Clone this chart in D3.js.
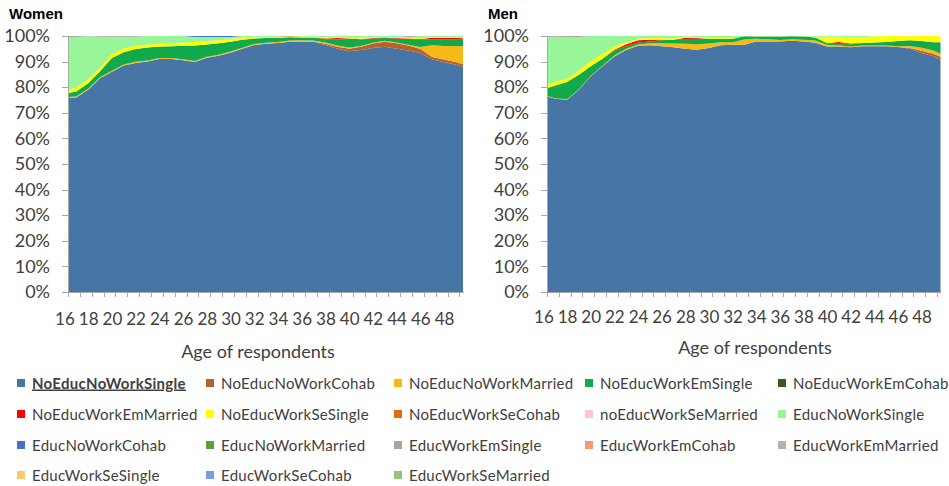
<!DOCTYPE html>
<html>
<head>
<meta charset="utf-8">
<script src="https://cdn.jsdelivr.net/npm/d3@7"></script>
<style>
    body { margin: 0; background: #fff; }
    svg { display: block; }
    .tick-label { font-family: Lato, "Open Sans", sans-serif; fill: #404040; }
    .axis path, .axis line { stroke: #a6a6a6; shape-rendering: crispEdges; }
    .panel-title { font-family: "Liberation Sans", Arial, sans-serif; font-weight: bold; font-size: 15px; fill: #000; }
    .axis-title { font-family: Lato, "Open Sans", sans-serif; font-size: 18px; fill: #404040; }
    .legend-text { font-family: Lato, "Open Sans", sans-serif; font-size: 15px; fill: #404040; letter-spacing: 0.3px; }
</style>
</head>
<body>
<div id="chart"></div>
<script>
// 100% stacked areas of activity/partnership states by age, women and men

let width = 949;
let height = 486;

// Ages of the data points (x categories)
let ages = [16.3, 17, 18, 19, 20, 21, 22, 23, 24, 25, 26, 27, 28, 29, 30, 31, 32, 33,
    34, 35, 36, 37, 38, 39, 40, 41, 42, 43, 44, 45, 46, 47, 48, 49, 49.6];

// Tick labels on the age axis
let ageLabels = [16, 18, 20, 22, 24, 26, 28, 30, 32, 34, 36, 38, 40, 42, 44, 46, 48];

// Series names in stacking order (bottom to top)
let seriesNames = ["NoEducNoWorkSingle", "NoEducNoWorkCohab", "NoEducNoWorkMarried",
    "NoEducWorkEmSingle", "NoEducWorkEmCohab", "NoEducWorkEmMarried",
    "NoEducWorkSeSingle", "NoEducWorkSeCohab", "noEducWorkSeMarried",
    "EducNoWorkSingle", "EducNoWorkCohab", "EducNoWorkMarried",
    "EducWorkEmSingle", "EducWorkEmCohab", "EducWorkEmMarried",
    "EducWorkSeSingle", "EducWorkSeCohab", "EducWorkSeMarried"];

let seriesColors = ["#4675a6", "#b8612a", "#f7b918",
    "#12a84c", "#385723", "#ff0000",
    "#ffff00", "#e46c0a", "#ffc7ce",
    "#98f598", "#4472c4", "#5ea03a",
    "#a5a5a5", "#f09a6e", "#b2b2b2",
    "#fbc86a", "#7c9cdb", "#93c47d"];

// Women (percent of respondents)
let womenNoEducNoWorkSingle = [75.8, 76, 79, 83.5, 86, 88.5, 89.5, 90, 91, 91, 90.5, 89.8, 91.5, 92.3, 93.5, 95, 96.5, 97,
    97.3, 97.8, 97.9, 97.8, 96.5, 95, 94, 94.5, 95.3, 95.8, 95, 94.3, 93.4, 90.8, 89.8, 88.8, 88];
let womenNoEducNoWorkCohab = [0, 0, 0, 0, 0, 0, 0, 0, 0, 0, 0, 0, 0, 0, 0, 0, 0, 0,
    0, 0, 0, 0, 0.5, 0.8, 1, 1.3, 1.8, 2, 2.2, 2, 1.5, 1, 1, 1, 1];
let womenNoEducNoWorkMarried = [0.4, 0.4, 0.4, 0.4, 0.4, 0.4, 0.4, 0.4, 0.4, 0.4, 0.4, 0.4, 0.4, 0.4, 0.4, 0.4, 0.4, 0.4,
    0.4, 0.4, 0.4, 0.4, 0.5, 0.5, 0.5, 0.3, 0.3, 0.3, 0.3, 0.3, 0.8, 4.6, 5.3, 6.3, 7];
let womenNoEducWorkEmSingle = [1.5, 1.9, 2.1, 2.3, 5, 4.8, 5, 5.1, 4.5, 4.6, 5.3, 6.1, 4.8, 4.5, 3.9, 3.1, 2.1, 1.8,
    1.5, 1.0, 1.1, 1.2, 1.2, 2.4, 3, 2.4, 1.6, 1.1, 1.5, 2.2, 2.9, 2.2, 2.5, 2.5, 2.4];
let womenNoEducWorkEmCohab = [0, 0, 0, 0, 0, 0, 0, 0, 0, 0, 0, 0, 0, 0, 0, 0, 0, 0,
    0, 0, 0, 0, 0, 0, 0, 0, 0, 0, 0, 0, 0, 0.2, 0.2, 0.2, 0.2];
let womenNoEducWorkEmMarried = [0, 0, 0, 0, 0, 0, 0, 0, 0, 0, 0, 0, 0, 0, 0, 0, 0, 0,
    0, 0.3, 0, 0, 0.3, 0.5, 0.5, 0.2, 0.2, 0.2, 0.2, 0.2, 0.2, 0.5, 0.5, 0.5, 0.5];
let womenNoEducWorkSeSingle = [1.3, 1.5, 1.6, 1.5, 1.5, 1.4, 1.3, 1.2, 1.1, 1.2, 1.3, 1.4, 1.3, 1.1, 1.0, 0.9, 0.7, 0.5,
    0.4, 0.3, 0.4, 0.4, 0.4, 0.3, 0.3, 0.3, 0.3, 0.3, 0.3, 0.3, 0.3, 0.3, 0.3, 0.3, 0.3];
let womenNoEducWorkSeCohab = [0, 0, 0, 0, 0, 0, 0, 0, 0, 0, 0, 0, 0, 0, 0, 0, 0, 0,
    0.2, 0.2, 0, 0, 0, 0, 0, 0, 0, 0, 0, 0, 0, 0, 0, 0, 0];
let womenNoEducWorkSeMarried = [0, 0, 0, 0, 0, 0, 0, 0, 0, 0, 0, 0, 0, 0, 0, 0, 0, 0,
    0, 0, 0, 0, 0, 0, 0, 0.3, 0, 0, 0, 0, 0, 0, 0, 0, 0];
let womenEducNoWorkSingle = [20.6, 19.8, 16.9, 12, 6.8, 4.6, 3.5, 3.3, 3, 2.8, 2.5, 1.9, 1.6, 1.3, 0.8, 0.6, 0.3, 0.3,
    0.2, 0, 0.2, 0.2, 0.6, 0.5, 0.7, 0.7, 0.5, 0.3, 0.5, 0.3, 0.9, 0.4, 0.4, 0.4, 0.6];
let womenEducNoWorkCohab = [0, 0, 0, 0, 0, 0, 0, 0, 0, 0, 0, 0.4, 0.4, 0.4, 0.4, 0, 0, 0,
    0, 0, 0, 0, 0, 0, 0, 0, 0, 0, 0, 0, 0, 0, 0, 0, 0];
let womenEducWorkEmSingle = [0.4, 0.4, 0, 0.3, 0.3, 0.3, 0.3, 0, 0, 0, 0, 0, 0, 0, 0, 0, 0, 0,
    0, 0, 0, 0, 0, 0, 0, 0, 0, 0, 0, 0.4, 0, 0, 0, 0, 0];

// Men (percent of respondents)
let menNoEducNoWorkSingle = [76.4, 75.5, 75.1, 79, 84.3, 88.2, 92, 94.5, 96.2, 96.4, 96, 95.6, 95, 94.6, 95.3, 96.4, 96.6, 96.6,
    97.9, 97.9, 97.9, 98.1, 97.9, 97.4, 96, 96, 95.6, 96, 96, 96, 95.7, 95, 93.4, 92.1, 90.7];
let menNoEducNoWorkCohab = [0, 0, 0, 0, 0, 0, 0, 0, 0, 0, 0, 0, 0, 0, 0, 0, 0, 0,
    0, 0, 0, 0, 0, 0, 0, 0, 0, 0, 0, 0, 0, 0.3, 0.8, 1, 1.2];
let menNoEducNoWorkMarried = [0.2, 0.2, 0.2, 0.2, 0.2, 0.2, 0.4, 0.5, 0.5, 0.8, 1.2, 1.5, 2, 2.2, 1.8, 1.2, 1, 2,
    1, 0.8, 0.5, 0.6, 0.6, 0.8, 0.7, 0.4, 0.3, 0.3, 0.3, 0.3, 0.3, 0.8, 1.2, 1.2, 1.2];
let menNoEducWorkEmSingle = [3.1, 5, 6.7, 5.7, 3.7, 2.7, 1.9, 1, 0.8, 0.7, 1.1, 1.4, 1.8, 2.1, 1.8, 1.2, 1.3, 1.3,
    0.9, 1.1, 1.4, 1.2, 1.3, 1.2, 0.7, 0.5, 0.8, 1, 1.2, 1.4, 2, 2.2, 2.6, 3.3, 4.5];
let menNoEducWorkEmCohab = [0, 0, 0, 0, 0, 0, 0, 0, 0, 0, 0, 0, 0, 0, 0, 0, 0, 0,
    0, 0, 0, 0, 0, 0, 0, 0.4, 0.4, 0, 0, 0, 0, 0, 0, 0, 0];
let menNoEducWorkEmMarried = [0, 0, 0, 0, 0, 0, 0.3, 0.8, 0.8, 0.6, 0.2, 0, 0.5, 0.3, 0, 0, 0, 0,
    0, 0, 0, 0, 0, 0, 0, 0.5, 0, 0, 0, 0, 0, 0, 0, 0, 0];
let menNoEducWorkSeSingle = [1.3, 1.3, 1.3, 1.5, 1.9, 1.9, 1.4, 0.7, 0.6, 0.7, 0.7, 0.6, 0.4, 0.4, 0.4, 0.4, 0.4, 0,
    0, 0, 0, 0, 0, 0.3, 2.2, 1.8, 2.2, 2.2, 2.4, 2.3, 2, 1.7, 2, 2.4, 2.4];
let menNoEducWorkSeMarried = [0, 0, 0, 0, 0, 0, 0, 0, 0, 0, 0, 0, 0, 0, 0, 0, 0, 0,
    0, 0, 0, 0, 0, 0, 0.2, 0.2, 0.2, 0, 0, 0, 0, 0, 0, 0, 0];
let menEducNoWorkSingle = [18.6, 17.7, 16.3, 13.2, 9.9, 7, 4, 2.5, 1.1, 0.8, 0.8, 0.9, 0.3, 0.4, 0.7, 0.8, 0.7, 0.1,
    0.2, 0.2, 0.2, 0.1, 0.2, 0.3, 0.3, 0.3, 0.5, 0.5, 0.1, 0, 0, 0, 0, 0, 0];
let menEducWorkEmSingle = [0.4, 0.3, 0.4, 0.4, 0, 0, 0, 0, 0, 0, 0, 0, 0, 0, 0, 0, 0, 0,
    0, 0, 0, 0, 0, 0, 0, 0, 0, 0, 0, 0, 0, 0, 0, 0, 0];

// Lookup tables for the stack; series that never show up stay at 0
let womenSeries = {
    NoEducNoWorkSingle: womenNoEducNoWorkSingle,
    NoEducNoWorkCohab: womenNoEducNoWorkCohab,
    NoEducNoWorkMarried: womenNoEducNoWorkMarried,
    NoEducWorkEmSingle: womenNoEducWorkEmSingle,
    NoEducWorkEmCohab: womenNoEducWorkEmCohab,
    NoEducWorkEmMarried: womenNoEducWorkEmMarried,
    NoEducWorkSeSingle: womenNoEducWorkSeSingle,
    NoEducWorkSeCohab: womenNoEducWorkSeCohab,
    noEducWorkSeMarried: womenNoEducWorkSeMarried,
    EducNoWorkSingle: womenEducNoWorkSingle,
    EducNoWorkCohab: womenEducNoWorkCohab,
    EducWorkEmSingle: womenEducWorkEmSingle
};

let menSeries = {
    NoEducNoWorkSingle: menNoEducNoWorkSingle,
    NoEducNoWorkCohab: menNoEducNoWorkCohab,
    NoEducNoWorkMarried: menNoEducNoWorkMarried,
    NoEducWorkEmSingle: menNoEducWorkEmSingle,
    NoEducWorkEmCohab: menNoEducWorkEmCohab,
    NoEducWorkEmMarried: menNoEducWorkEmMarried,
    NoEducWorkSeSingle: menNoEducWorkSeSingle,
    noEducWorkSeMarried: menNoEducWorkSeMarried,
    EducNoWorkSingle: menEducNoWorkSingle,
    EducWorkEmSingle: menEducWorkEmSingle
};

let svg = d3.select("#chart")
    .append("svg")
    .attr("width", width)
    .attr("height", height);

let color = d3.scaleOrdinal()
    .domain(seriesNames)
    .range(seriesColors);

// Draw one panel; the magic numbers place it like the original figure
function drawPanel(title, series, left, right, titleX, labelGap, axisTitleX, axisTitleY) {
    let top = 36;
    let bottom = 292;

    let rows = ages.map(function (a, i) {
        let row = { age: a };
        seriesNames.forEach(function (k) {
            row[k] = series[k] ? series[k][i] : 0;
        });
        return row;
    });

    let stacked = d3.stack()
        .keys(seriesNames)
        .offset(d3.stackOffsetExpand)(rows);

    let xScale = d3.scaleLinear()
        .domain([16.3, 49.6])
        .range([left, right]);

    let yScale = d3.scaleLinear()
        .domain([0, 1])
        .range([bottom, top]);

    let area = d3.area()
        .x(function (d) { return xScale(d.data.age); })
        .y0(function (d) { return yScale(d[0]); })
        .y1(function (d) { return yScale(d[1]); });

    let g = svg.append("g");

    g.selectAll("path.layer")
        .data(stacked)
        .enter()
        .append("path")
        .attr("class", "layer")
        .attr("fill", function (d) { return color(d.key); })
        .attr("d", area);

    // y axis
    let yAxis = d3.axisLeft(yScale)
        .tickValues(d3.range(0, 11).map(function (i) { return i / 10; }))
        .tickFormat(d3.format(".0%"))
        .tickSize(6)
        .tickSizeOuter(0)
        .tickPadding(12);

    let yg = g.append("g")
        .attr("class", "axis")
        .attr("transform", "translate(" + left + ",0)")
        .call(yAxis);
    yg.selectAll("text")
        .attr("class", "tick-label")
        .style("font-size", "18px");

    // x axis: small ticks every year, labels every two years
    let tickAges = d3.range(0, 34).map(function (i) { return 16.3 + i; });
    g.append("g")
        .attr("class", "axis")
        .attr("transform", "translate(0," + bottom + ")")
        .call(d3.axisBottom(xScale).tickValues(tickAges).tickSize(5).tickSizeOuter(0).tickFormat(""));

    let xg = g.append("g")
        .attr("class", "axis")
        .attr("transform", "translate(0," + bottom + ")")
        .call(d3.axisBottom(xScale).tickValues(ageLabels).tickSize(0).tickPadding(labelGap).tickFormat(d3.format("d")));
    xg.select(".domain").remove();
    xg.selectAll("text")
        .attr("class", "tick-label")
        .style("font-size", "17px");

    g.append("text")
        .attr("class", "panel-title")
        .attr("x", titleX)
        .attr("y", 19)
        .text(title);

    g.append("text")
        .attr("class", "axis-title")
        .attr("x", axisTitleX)
        .attr("y", axisTitleY)
        .attr("text-anchor", "middle")
        .text("Age of respondents");
}

drawPanel("Women", womenSeries, 68, 463, 9, 21, 258, 358);
drawPanel("Men", menSeries, 547, 940.5, 488, 19, 755, 354);

// Legend: five columns, four rows
let legendCols = [17, 206, 394, 585, 778];
let legendRows = [383, 414, 445, 475];

let legend = svg.append("g");

seriesNames.forEach(function (name, i) {
    let cx = legendCols[i % 5];
    let cy = legendRows[Math.floor(i / 5)];

    legend.append("rect")
        .attr("x", cx)
        .attr("y", cy - 4)
        .attr("width", 8)
        .attr("height", 8)
        .attr("fill", color(name));

    let t = legend.append("text")
        .attr("class", "legend-text")
        .attr("x", cx + 15)
        .attr("y", cy + 5.5)
        .text(name);

    // First entry is the selected one in the original
    if (i === 0) {
        t.style("font-weight", "bold")
            .style("text-decoration", "underline");
    }
});
</script>
</body>
</html>
